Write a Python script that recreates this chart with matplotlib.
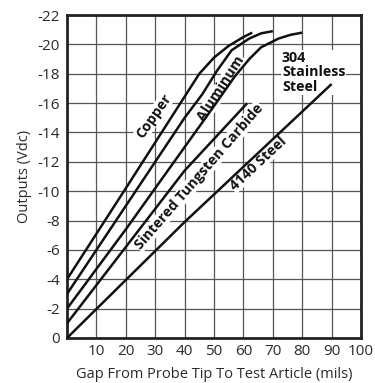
import matplotlib
matplotlib.use("Agg")
import matplotlib.pyplot as plt
import numpy as np

plt.rcParams['font.family'] = ['Open Sans', 'DejaVu Sans']
plt.rcParams['axes.unicode_minus'] = False

# Data (gap in mils, output in Vdc)
copper_x = [0, 20, 45, 50, 55, 60, 63]
copper_y = [-4, -10.2, -18.0, -19.1, -19.9, -20.5, -20.8]

aluminum_x = [0, 20, 40, 46, 51, 56, 62, 66, 70]
aluminum_y = [-3, -9.0, -15.0, -16.6, -18.2, -19.6, -20.4, -20.75, -20.9]

ss304_x = [0, 20, 40, 50, 57, 62, 66, 72, 76, 80]
ss304_y = [-2, -7.4, -13.0, -15.8, -17.8, -19.0, -19.8, -20.4, -20.65, -20.8]

stc_x = [0, 20, 40, 61.3]
stc_y = [-1, -6.2, -11.4, -16.0]

steel4140_x = [0, 40, 90]
steel4140_y = [0, -7.9, -17.3]

x_ticks = [10, 20, 30, 40, 50, 60, 70, 80, 90, 100]
y_ticks = [0, -2, -4, -6, -8, -10, -12, -14, -16, -18, -20, -22]

fig = plt.figure(figsize=(3.75, 3.83), dpi=100)
ax = fig.add_axes([0.1787, 0.1175, 0.7840, 0.8433])

ax.set_xlim(0, 100)
ax.set_ylim(0, -22)
ax.set_xticks(x_ticks)
ax.set_yticks(y_ticks)
ax.set_xticklabels([str(v) for v in x_ticks])
ax.set_yticklabels([str(v) for v in y_ticks])
ax.tick_params(length=0, labelsize=11, pad=4, colors='#2a2a2a')
ax.tick_params(axis='y', pad=5)
ax.grid(True, color='#555555', lw=0.9, zorder=0)
for s in ax.spines.values():
    s.set_linewidth(2.0)
    s.set_color('#222222')

for xs, ys in [(copper_x, copper_y), (aluminum_x, aluminum_y), (ss304_x, ss304_y),
               (stc_x, stc_y), (steel4140_x, steel4140_y)]:
    ax.plot(xs, ys, color='#111111', lw=1.8, zorder=4, solid_capstyle='butt')

bb = dict(facecolor='white', edgecolor='none', pad=0.5)
kw = dict(fontsize=10.3, fontweight='bold', color='#111111', ha='center', va='center',
          zorder=3, bbox=bb, rotation_mode='anchor')
ax.text(29.6, -15.1, 'Copper', rotation=55, **kw)
ax.text(52.4, -17.0, 'Aluminum', rotation=57, **kw)
ax.text(44.9, -11.0, 'Sintered Tungsten Carbide', rotation=49, **kw)
ax.text(65.0, -11.9, '4140 Steel', rotation=43, **kw)
ax.text(73.1, -18.1, '304\nStainless\nSteel', fontsize=10.3, fontweight='bold',
        color='#111111', ha='left', va='center', zorder=3, bbox=bb, linespacing=1.05)

ax.set_xlabel('Gap From Probe Tip To Test Article (mils)', fontsize=10.5, color='#2a2a2a', labelpad=6)
ax.set_ylabel('Outputs (Vdc)', fontsize=10.5, color='#2a2a2a', labelpad=4)

fig.savefig('out.png', dpi=100)
